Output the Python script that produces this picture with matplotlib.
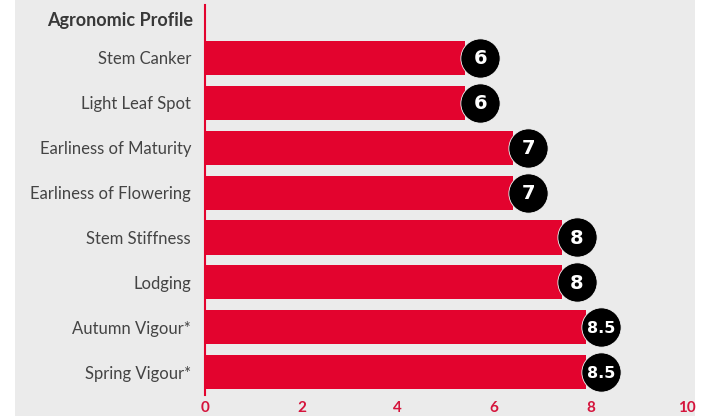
import matplotlib.pyplot as plt
from matplotlib.patches import Rectangle

# data
traits = ["Stem Canker", "Light Leaf Spot", "Earliness of Maturity",
          "Earliness of Flowering", "Stem Stiffness", "Lodging",
          "Autumn Vigour*", "Spring Vigour*"]
scores = [6, 6, 7, 7, 8, 8, 8.5, 8.5]
score_labels = ["6", "6", "7", "7", "8", "8", "8.5", "8.5"]
header = "Agronomic Profile"
xticks = [0, 2, 4, 6, 8, 10]

red = "#e3032e"
grey_bg = "#ebebeb"

fig = plt.figure(figsize=(7.06, 4.16), dpi=100)
fig.patches.append(Rectangle((15 / 706, 0), 680 / 706, 1, transform=fig.transFigure,
                             facecolor=grey_bg, edgecolor="none", zorder=-10))

ax = fig.add_axes([205 / 706, 21 / 416, (687 - 205) / 706, 390 / 416])
ax.set_facecolor("none")

ypos = list(range(len(traits)))
# bars stop short of the value so the badge sits on the end
ax.barh(ypos, [s - 0.6 for s in scores], height=0.76, color=red, zorder=2)
ax.scatter([s - 0.29 for s in scores], ypos, s=800, color="black",
           edgecolor="#f4f4f4", linewidth=0.6, zorder=3)
for y, s, lab in zip(ypos, scores, score_labels):
    ax.text(s - 0.29, y + 0.02, lab, color="white", ha="center", va="center",
            fontsize=14 if len(lab) == 1 else 11.5, fontweight="bold",
            family="DejaVu Sans", zorder=4)

ax.set_xlim(0, 10)
ax.set_ylim(7.51, -1.18)
ax.set_yticks(ypos)
ax.set_yticklabels(traits, family="Lato", fontsize=12, color="#444444")
ax.set_xticks(xticks)
ax.set_xticklabels([str(t) for t in xticks], family="Lato", fontsize=11,
                   fontweight="bold", color="#d5143c")
ax.tick_params(axis="both", length=0)
ax.tick_params(axis="y", pad=10)
ax.tick_params(axis="x", pad=4)

ax.text(-0.25, -0.83, header, transform=ax.transData, ha="right", va="center",
        family="Lato", fontsize=13, fontweight="bold", color="#383838")

for side in ["top", "right", "bottom"]:
    ax.spines[side].set_visible(False)
ax.spines["left"].set_color(red)
ax.spines["left"].set_linewidth(1.5)

fig.savefig("out.png", dpi=100)
